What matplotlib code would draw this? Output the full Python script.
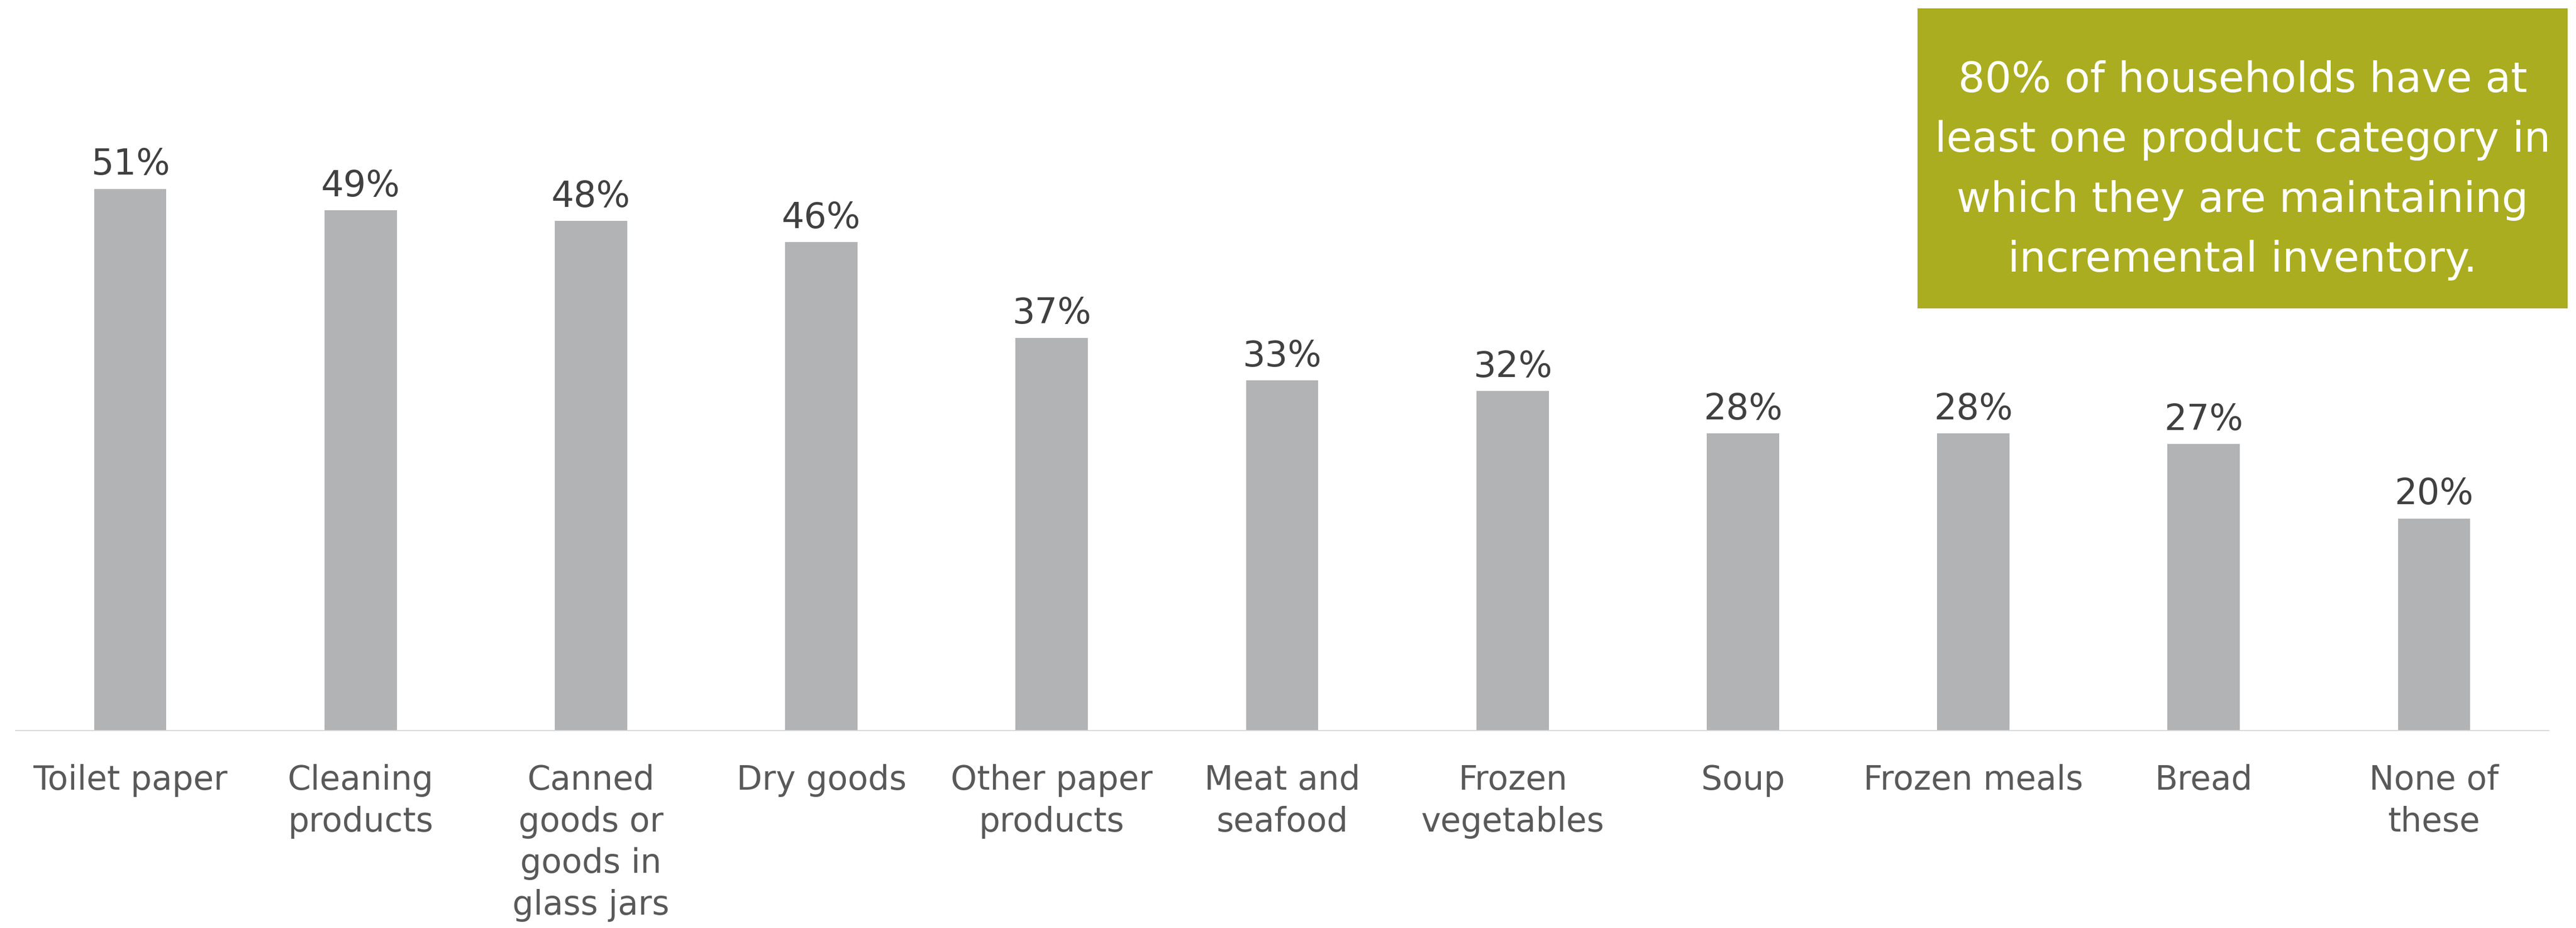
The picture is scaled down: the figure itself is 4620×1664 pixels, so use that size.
import matplotlib
matplotlib.use("Agg")
import matplotlib.pyplot as plt
from matplotlib.patches import Rectangle
from matplotlib.transforms import blended_transform_factory

plt.rcParams['font.family'] = ['DejaVu Sans']

categories = [
    "Toilet paper", "Cleaning\nproducts", "Canned\ngoods or\ngoods in\nglass jars",
    "Dry goods", "Other paper\nproducts", "Meat and\nseafood", "Frozen\nvegetables",
    "Soup", "Frozen meals", "Bread", "None of\nthese",
]
values = [51, 49, 48, 46, 37, 33, 32, 28, 28, 27, 20]
callout_lines = [
    "80% of households have at",
    "least one product category in",
    "which they are maintaining",
    "incremental inventory.",
]

W, H, DPI = 4620, 1664, 100
fig = plt.figure(figsize=(W / DPI, H / DPI), dpi=DPI)

base_px = 1311
ax = fig.add_axes([27 / W, (H - base_px) / H, (4572 - 27) / W, base_px / H])
x = list(range(len(values)))
ax.bar(x, values, width=0.314, color="#B2B3B5", zorder=2)
ax.set_xlim(-0.5, len(values) - 0.5)
ax.set_ylim(0, base_px / 19.06)
for s in ax.spines.values():
    s.set_visible(False)
ax.axhline(0, color="#D9D9D9", lw=2.8, zorder=3)
ax.set_yticks([])
ax.set_xticks([])

for xi, v in zip(x, values):
    ax.annotate(f"{v}%", (xi, v), xytext=(0, 9), textcoords="offset points",
                ha="center", va="bottom", fontsize=46, color="#404040")

trans = blended_transform_factory(ax.transData, fig.transFigure)
for xi, lab in zip(x, categories):
    ax.text(xi, (H - 1370) / H, lab, transform=trans, ha="center", va="top",
            fontsize=43, color="#595959", linespacing=1.34)

# callout box
bx0, bx1, by0, by1 = 3439, 4605, 15, 553
fig.patches.append(Rectangle((bx0 / W, (H - by1) / H), (bx1 - bx0) / W, (by1 - by0) / H,
                             transform=fig.transFigure, facecolor="#AAAD20",
                             edgecolor="none", zorder=5))
cx = (bx0 + bx1) / 2 / W
for i, line in enumerate(callout_lines):
    fig.text(cx, (H - (165 + 107.3 * i)) / H, line, ha="center", va="baseline",
             fontsize=54, color="white", zorder=6)

fig.savefig("out.png", dpi=DPI, facecolor="white")
